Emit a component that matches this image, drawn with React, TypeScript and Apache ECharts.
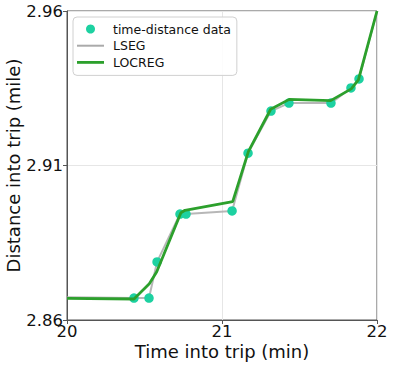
import React, { useEffect, useRef } from "react";
import * as echarts from "echarts";

const dataTime = [20.432, 20.529, 20.581, 20.729, 20.768, 21.065, 21.168, 21.316, 21.432, 21.703, 21.832, 21.884];
const dataDist = [2.8671, 2.8671, 2.8788, 2.8943, 2.8943, 2.8953, 2.9140, 2.9276, 2.9302, 2.9302, 2.9351, 2.9380];

const lsegTime = [20, 20.432, 20.529, 20.581, 20.729, 20.768, 21.065, 21.168, 21.316, 21.432, 21.703, 21.832, 21.884, 22];
const lsegDist = [2.8674, 2.8671, 2.8671, 2.8788, 2.8943, 2.8943, 2.8953, 2.9140, 2.9276, 2.9302, 2.9302, 2.9351, 2.9380, 2.96];

const locregTime = [20, 20.432, 20.531, 20.579, 20.735, 20.761, 21.069, 21.170, 21.314, 21.434, 21.701, 21.834, 21.88, 22];
const locregDist = [2.8670, 2.8668, 2.8717, 2.8756, 2.8947, 2.8955, 2.8983, 2.9145, 2.9282, 2.9314, 2.9310, 2.9348, 2.9377, 2.96];

const xTicks = [20, 21, 22];
const yTicks = [2.86, 2.91, 2.96];

const FONT = "DejaVu Sans";

export default function App() {
  const ref = useRef<HTMLDivElement>(null);
  useEffect(() => {
    if (!ref.current) return;
    const chart = echarts.init(ref.current, undefined, { renderer: "svg" });
    const zip = (a: number[], b: number[]) => a.map((v, i) => [v, b[i]]);
    chart.setOption({
      animation: false,
      backgroundColor: "#ffffff",
      textStyle: { fontFamily: FONT },
      grid: {
        left: 67, right: 16, top: 11, bottom: 46,
        show: true, borderColor: "#555", borderWidth: 1, backgroundColor: "transparent",
        outerBoundsMode: "none", containLabel: false,
      },
      legend: {
        orient: "vertical",
        left: 73,
        top: 17,
        padding: [5, 6, 6, 4],
        itemWidth: 27,
        itemHeight: 9,
        itemGap: 2.7,
        backgroundColor: "rgba(255,255,255,0.85)",
        borderColor: "#d0d0d0",
        borderWidth: 1,
        borderRadius: 4,
        textStyle: { fontFamily: FONT, fontSize: 12.5, color: "#111", lineHeight: 14, padding: [0, 0, 0, 4] },
        data: [
          { name: "time-distance data", icon: "circle", itemStyle: { color: "#1dd1a1" } },
          { name: "LSEG", icon: "path://M0,0 L27,0 L27,2 L0,2 Z", itemStyle: { color: "#aaaaaa", borderWidth: 0 } },
          { name: "LOCREG", icon: "path://M0,0 L27,0 L27,2.8 L0,2.8 Z", itemStyle: { color: "#2ca02c", borderWidth: 0 } },
        ],
      },
      xAxis: {
        type: "value",
        min: 20,
        max: 22,
        interval: 1,
        name: "Time into trip (min)",
        nameLocation: "middle",
        nameGap: 22,
        nameMoveOverlap: false,
        nameTextStyle: { fontFamily: FONT, fontSize: 18, color: "#111" },
        axisLine: { show: true, lineStyle: { color: "#555" } },
        axisTick: { show: true, length: 4, lineStyle: { color: "#555" } },
        axisLabel: { fontFamily: FONT, fontSize: 16.5, color: "#111", margin: 3, formatter: (v: number) => (xTicks.includes(v) ? String(v) : "") },
        splitLine: { show: true, lineStyle: { color: "#e6e6e6", width: 1 } },
      },
      yAxis: {
        type: "value",
        min: 2.86,
        max: 2.96,
        interval: 0.05,
        name: "Distance into trip (mile)",
        nameLocation: "middle",
        nameGap: 45,
        nameMoveOverlap: false,
        nameTextStyle: { fontFamily: FONT, fontSize: 18, color: "#111" },
        axisLine: { show: true, lineStyle: { color: "#555" } },
        axisTick: { show: true, length: 4, lineStyle: { color: "#555" } },
        axisLabel: {
          fontFamily: FONT,
          fontSize: 16.5,
          color: "#111",
          margin: 4,
          formatter: (v: number) => {
            const t = yTicks.find((y) => Math.abs(y - v) < 1e-6);
            return t !== undefined ? t.toFixed(2) : "";
          },
        },
        splitLine: { show: true, lineStyle: { color: "#e6e6e6", width: 1 } },
      },
      series: [
        {
          name: "time-distance data",
          type: "scatter",
          data: zip(dataTime, dataDist),
          symbol: "circle",
          symbolSize: 9.5,
          itemStyle: { color: "#1dd1a1", opacity: 1 },
          z: 3,
        },
        {
          name: "LSEG",
          type: "line",
          data: zip(lsegTime, lsegDist),
          showSymbol: false,
          symbol: "none",
          lineStyle: { color: "#aaaaaa", width: 2, opacity: 0.85 },
          itemStyle: { color: "#aaaaaa" },
          z: 2,
        },
        {
          name: "LOCREG",
          type: "line",
          data: zip(locregTime, locregDist),
          showSymbol: false,
          symbol: "none",
          lineStyle: { color: "#2ca02c", width: 2.8 },
          itemStyle: { color: "#2ca02c" },
          z: 4,
        },
      ],
    });
    return () => chart.dispose();
  }, []);
  return <div ref={ref} style={{ width: 393, height: 366, position: "absolute", left: 0, top: 0 }} />;
}
